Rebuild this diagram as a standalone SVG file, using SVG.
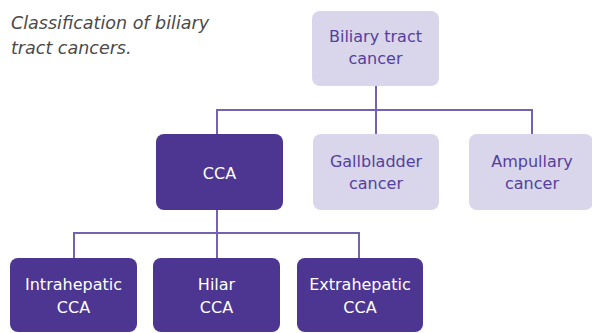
<svg xmlns="http://www.w3.org/2000/svg" width="592" height="333" viewBox="0 0 592 333">
<style>
.light rect{fill:#d9d5ea}
.light text{fill:#553f9e}
.dark rect{fill:#4d3592}
.dark text{fill:#ffffff}
text{font-family:"DejaVu Sans","Liberation Sans",sans-serif;font-size:16px;text-anchor:middle}
.title{font-style:italic;font-size:17.5px;text-anchor:start;fill:#4a4a4a}
.conn path{fill:none;stroke:#7462b2;stroke-width:2}
</style>
<rect width="592" height="333" fill="#ffffff"/>
<g id="title">
<text class="title" x="11" y="29">Classification of biliary</text>
<text class="title" x="11" y="54">tract cancers.</text>
</g>
<g class="conn" id="connectors">
<path d="M376 86V134"/>
<path d="M217 134V110H532V134"/>
<path d="M217 210V258"/>
<path d="M74 258V233H359V258"/>
</g>
<g id="biliary" class="light">
<rect x="312" y="11" width="127" height="75" rx="8"/>
<text x="375.5" y="42">Biliary tract</text>
<text x="375.5" y="64">cancer</text>
</g>
<g id="cca" class="dark">
<rect x="156" y="134" width="127" height="76" rx="8"/>
<text x="219.5" y="179">CCA</text>
</g>
<g id="gallbladder" class="light">
<rect x="313" y="134" width="126" height="76" rx="8"/>
<text x="376" y="167">Gallbladder</text>
<text x="376" y="189">cancer</text>
</g>
<g id="ampullary" class="light">
<rect x="469" y="134" width="124" height="76" rx="8"/>
<text x="532" y="167">Ampullary</text>
<text x="532" y="189">cancer</text>
</g>
<g id="intrahepatic" class="dark">
<rect x="10" y="258" width="127" height="74" rx="8"/>
<text x="73.5" y="290">Intrahepatic</text>
<text x="73.5" y="313">CCA</text>
</g>
<g id="hilar" class="dark">
<rect x="153" y="258" width="127" height="74" rx="8"/>
<text x="216.5" y="290">Hilar</text>
<text x="216.5" y="313">CCA</text>
</g>
<g id="extrahepatic" class="dark">
<rect x="297" y="258" width="126" height="74" rx="8"/>
<text x="360" y="290">Extrahepatic</text>
<text x="360" y="313">CCA</text>
</g>
</svg>
